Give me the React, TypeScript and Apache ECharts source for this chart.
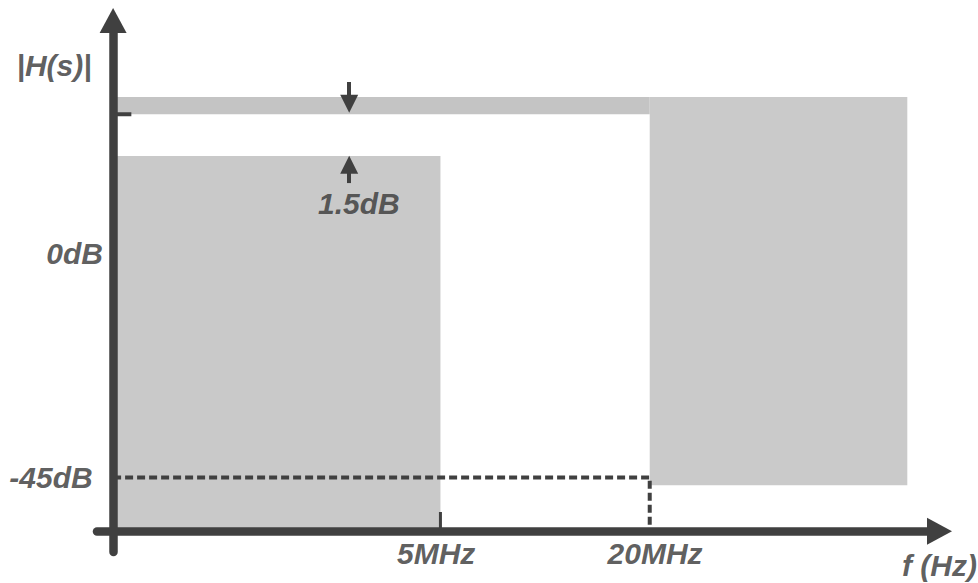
import React, { useEffect, useRef } from "react";
import * as echarts from "echarts";

// Schematic filter-mask diagram: x = frequency position, y = magnitude level (diagram units)
const freqTickLabels = ["5MHz", "20MHz"];
const freqTickValues = [30.5, 50]; // passband edge, stopband edge
const maskRight = 74; // right end of the stopband mask
const rippleTop = 83.3; // upper limit of the passband
const rippleBottom = 80; // lower limit (1.5dB ripple)
const passMaskTop = 72; // top of the passband forbidden region
const stopMaskBottom = 8.8; // bottom of the stopband forbidden region
const levelLabels = ["0dB", "-45dB"];
const levelValues = [53.2, 10.3];
const rippleLabel = "1.5dB";
const yAxisName = "|H(s)|";
const xAxisName = "f (Hz)";

const INK = "#404040";
const FONT = {
  fontFamily: "'Liberation Sans', Arial, sans-serif",
  fontWeight: "bold" as const,
  fontStyle: "italic" as const,
  fontSize: 30,
  color: "#363636",
};

export default function App() {
  const ref = useRef<HTMLDivElement>(null);

  useEffect(() => {
    if (!ref.current) return;
    const chart = echarts.init(ref.current, undefined, { renderer: "svg" });

    const passEdge = freqTickValues[0];
    const stopEdge = freqTickValues[1];
    const stopLevel = levelValues[1];

    const rects = [
      { value: [0, passEdge, 0, passMaskTop], itemStyle: { color: "#c9c9c9" } },
      { value: [0, stopEdge, rippleBottom, rippleTop], itemStyle: { color: "#c4c4c4" } },
      { value: [stopEdge, maskRight, stopMaskBottom, rippleTop], itemStyle: { color: "#cacaca" } },
    ];

    const labelItem = (text: string, x: number, y: number, align: string) => ({
      value: [x, y],
      name: text,
      label: { align },
    });

    const labels = [
      labelItem(yAxisName, -2, 89.3, "right"),
      labelItem(levelLabels[0], -0.95, levelValues[0], "right"),
      labelItem(levelLabels[1], -1.9, levelValues[1], "right"),
      labelItem(rippleLabel, 22.9, 62.8, "center"),
      labelItem(freqTickLabels[0], freqTickValues[0] - 0.4, -4.2, "center"),
      labelItem(freqTickLabels[1], freqTickValues[1] + 0.5, -4.2, "center"),
      labelItem(xAxisName, 77, -6.6, "center"),
    ];

    const axisCommon = {
      type: "value" as const,
      axisTick: { show: false },
      axisLabel: { show: false },
      splitLine: { show: false },
      z: 10,
    };

    chart.setOption({
      animation: false,
      backgroundColor: "#ffffff",
      grid: { left: 97, right: 38.5, top: 20.5, bottom: 31 },
      xAxis: {
        ...axisCommon,
        min: -1.5,
        max: 77,
        axisLine: {
          onZero: true,
          symbol: ["none", "triangle"],
          symbolSize: [27, 25],
          lineStyle: { color: INK, width: 8.5, cap: "round" },
        },
      },
      yAxis: {
        ...axisCommon,
        min: -4,
        max: 98,
        axisLine: {
          onZero: true,
          symbol: ["none", "triangle"],
          symbolSize: [27, 25],
          lineStyle: { color: INK, width: 8.5, cap: "round" },
        },
      },
      series: [
        {
          type: "custom",
          clip: false,
          z: 1,
          encode: { x: [0, 1], y: [2, 3] },
          renderItem: (params: any, api: any) => {
            const p0 = api.coord([api.value(0), api.value(3)]);
            const p1 = api.coord([api.value(1), api.value(2)]);
            return {
              type: "rect",
              shape: { x: p0[0], y: p0[1], width: p1[0] - p0[0], height: p1[1] - p0[1] },
              style: { fill: api.visual("color") },
            };
          },
          data: rects,
        },
        {
          // -45dB stopband attenuation guide
          type: "line",
          z: 3,
          symbol: "none",
          silent: true,
          lineStyle: { color: INK, width: 4, type: [8, 4] },
          data: [
            [0, stopLevel],
            [stopEdge, stopLevel],
            [stopEdge, 0],
          ],
        },
        {
          // 5MHz tick
          type: "line",
          z: 3,
          symbol: "none",
          silent: true,
          lineStyle: { color: INK, width: 3 },
          data: [
            [passEdge, 0],
            [passEdge, 3.7],
          ],
        },
        {
          // passband upper tick on the y axis, plus ripple arrows
          type: "line",
          z: 3,
          symbol: "none",
          silent: true,
          lineStyle: { color: INK, width: 4 },
          data: [
            [0, rippleBottom],
            [1.7, rippleBottom],
          ],
          markLine: {
            silent: true,
            symbol: ["none", "triangle"],
            symbolSize: 18,
            label: { show: false },
            lineStyle: { color: INK, width: 4, type: "solid" },
            data: [
              [{ coord: [22, 86.2] }, { coord: [22, 82.0] }],
              [{ coord: [22, 66.8] }, { coord: [22, 70.3] }],
            ],
          },
        },
        {
          type: "scatter",
          z: 5,
          clip: false,
          silent: true,
          symbolSize: 1,
          itemStyle: { color: "rgba(0,0,0,0)" },
          label: {
            show: true,
            position: "inside",
            verticalAlign: "middle",
            formatter: (p: any) => p.name,
            ...FONT,
          },
          data: labels,
        },
      ],
    });

    return () => chart.dispose();
  }, []);

  return (
    <div
      ref={ref}
      style={{ position: "fixed", left: 0, top: 0, width: 978, height: 583, background: "#fff" }}
    />
  );
}
